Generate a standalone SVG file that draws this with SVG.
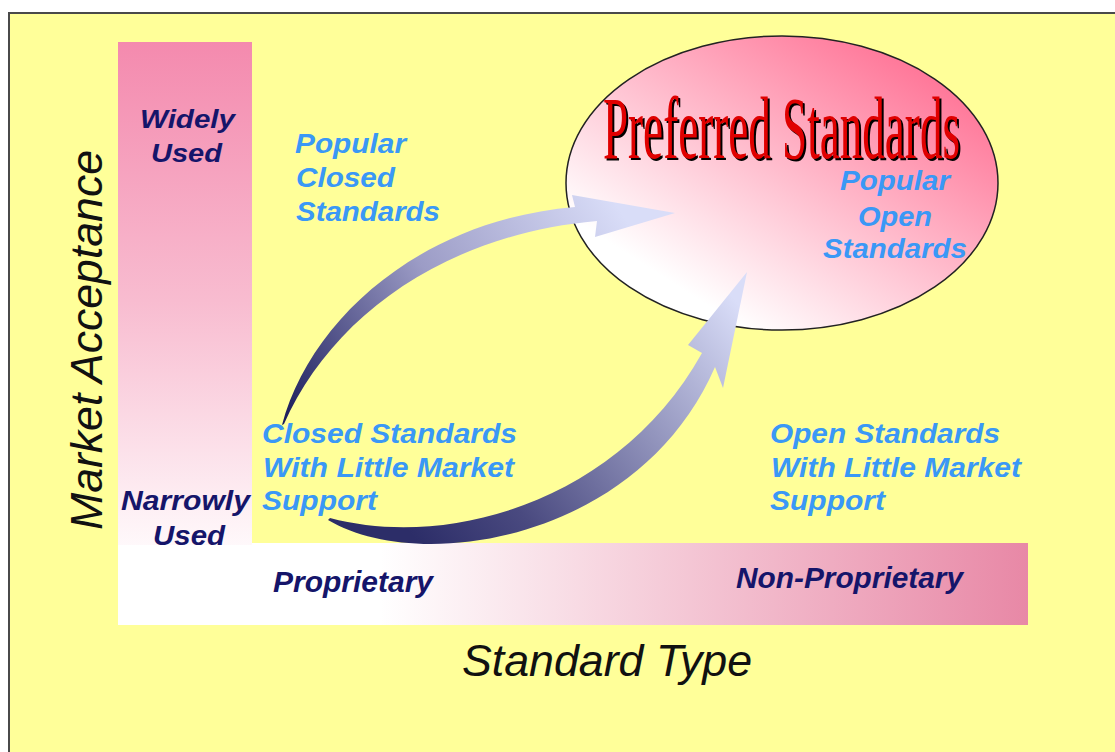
<svg xmlns="http://www.w3.org/2000/svg" width="1115" height="752" viewBox="0 0 1115 752">
  <style>
    .blue { font-family: "Liberation Sans", Arial, sans-serif; font-weight: bold; font-style: italic; font-size: 28px; fill: #3a98f6; }
    .navy { font-family: "Liberation Sans", Arial, sans-serif; font-weight: bold; font-style: italic; fill: #15156a; }
    .axis { font-family: "Liberation Sans", Arial, sans-serif; font-style: italic; font-size: 44px; fill: #111; }
    .pref { font-family: "Liberation Serif", "Times New Roman", serif; font-size: 88px; }
  </style>
  <defs>
    <linearGradient id="gVert" x1="0" y1="42" x2="0" y2="560" gradientUnits="userSpaceOnUse">
      <stop offset="0" stop-color="#f48aae"/>
      <stop offset="0.5" stop-color="#f8bcd0"/>
      <stop offset="1" stop-color="#fffcfd"/>
    </linearGradient>
    <linearGradient id="gHoriz" x1="380" y1="0" x2="1028" y2="0" gradientUnits="userSpaceOnUse">
      <stop offset="0" stop-color="#ffffff"/>
      <stop offset="1" stop-color="#e888a6"/>
    </linearGradient>
    <linearGradient id="gEll" x1="0.15" y1="0.9" x2="0.9" y2="0.1">
      <stop offset="0.1" stop-color="#ffffff"/>
      <stop offset="1" stop-color="#ff6e92"/>
    </linearGradient>
    <linearGradient id="gArr1" x1="285" y1="420" x2="620" y2="210" gradientUnits="userSpaceOnUse">
      <stop offset="0" stop-color="#1c1d5c"/>
      <stop offset="0.5" stop-color="#9c9cc6"/>
      <stop offset="1" stop-color="#d9ddf8"/>
    </linearGradient>
    <linearGradient id="gArr2" x1="420" y1="545" x2="735" y2="300" gradientUnits="userSpaceOnUse">
      <stop offset="0" stop-color="#2c2d68"/>
      <stop offset="0.25" stop-color="#4a4a80"/>
      <stop offset="1" stop-color="#d9ddf8"/>
    </linearGradient>
  </defs>

  <g id="background">
    <rect x="0" y="0" width="1115" height="752" fill="#ffffff"/>
    <rect x="9" y="13" width="1120" height="760" fill="#ffff99" stroke="#4a4a4a" stroke-width="2"/>
  </g>

  <g id="axis-bars">
    <rect x="118" y="543" width="910" height="82" fill="url(#gHoriz)"/>
    <rect x="118" y="42" width="134" height="503" fill="url(#gVert)"/>
    <rect x="118" y="545" width="127" height="80" fill="#ffffff"/>
  </g>

  <g id="node-preferred">
    <ellipse cx="782" cy="183" rx="216" ry="147" fill="url(#gEll)" stroke="#222" stroke-width="1.5"/>
    <text class="pref" x="605" y="160" textLength="357" lengthAdjust="spacingAndGlyphs" fill="#000">Preferred Standards</text>
    <text class="pref" x="603" y="158" textLength="357" lengthAdjust="spacingAndGlyphs" fill="#e00000">Preferred Standards</text>
    <text class="blue" x="840" y="190" textLength="110" lengthAdjust="spacingAndGlyphs">Popular</text>
    <text class="blue" x="858" y="226" textLength="74" lengthAdjust="spacingAndGlyphs">Open</text>
    <text class="blue" x="823" y="258" textLength="144" lengthAdjust="spacingAndGlyphs">Standards</text>
  </g>

  <g id="node-popular-closed">
    <text class="blue" x="295" y="153" textLength="111" lengthAdjust="spacingAndGlyphs">Popular</text>
    <text class="blue" x="296" y="187" textLength="99" lengthAdjust="spacingAndGlyphs">Closed</text>
    <text class="blue" x="296" y="221" textLength="144" lengthAdjust="spacingAndGlyphs">Standards</text>
  </g>

  <g id="node-closed-little">
    <text class="blue" x="262" y="443" textLength="255" lengthAdjust="spacingAndGlyphs">Closed Standards</text>
    <text class="blue" x="263" y="477" textLength="251" lengthAdjust="spacingAndGlyphs">With Little Market</text>
    <text class="blue" x="262" y="510" textLength="115" lengthAdjust="spacingAndGlyphs">Support</text>
  </g>

  <g id="node-open-little">
    <text class="blue" x="770" y="443" textLength="230" lengthAdjust="spacingAndGlyphs">Open Standards</text>
    <text class="blue" x="771" y="477" textLength="250" lengthAdjust="spacingAndGlyphs">With Little Market</text>
    <text class="blue" x="770" y="510" textLength="115" lengthAdjust="spacingAndGlyphs">Support</text>
  </g>

  <g id="axis-labels">
    <text class="navy" x="140" y="128" font-size="26" textLength="95" lengthAdjust="spacingAndGlyphs">Widely</text>
    <text class="navy" x="151" y="162" font-size="26" textLength="71" lengthAdjust="spacingAndGlyphs">Used</text>
    <text class="navy" x="121" y="510" font-size="28" textLength="129" lengthAdjust="spacingAndGlyphs">Narrowly</text>
    <text class="navy" x="153" y="545" font-size="28" textLength="72" lengthAdjust="spacingAndGlyphs">Used</text>
    <text class="navy" x="273" y="592" font-size="29" textLength="160" lengthAdjust="spacingAndGlyphs">Proprietary</text>
    <text class="navy" x="736" y="588" font-size="29" textLength="227" lengthAdjust="spacingAndGlyphs">Non-Proprietary</text>
    <text class="axis" x="462" y="676" textLength="290" lengthAdjust="spacingAndGlyphs">Standard Type</text>
    <text class="axis" transform="translate(102,530) rotate(-90)" x="0" y="0" textLength="380" lengthAdjust="spacingAndGlyphs">Market Acceptance</text>
  </g>

  <g id="connectors">
    <path d="M282,425 C310,320 420,220 575,207 L572,195 L675,213 L595,237 L597,221 C440,235 330,320 284,424 Z" fill="url(#gArr1)"/>
    <path d="M328,520 C420,575 640,540 715,367 L723,388 L747,272 L688,345 L702,353 C620,500 450,550 330,518 Z" fill="url(#gArr2)"/>
  </g>
</svg>
